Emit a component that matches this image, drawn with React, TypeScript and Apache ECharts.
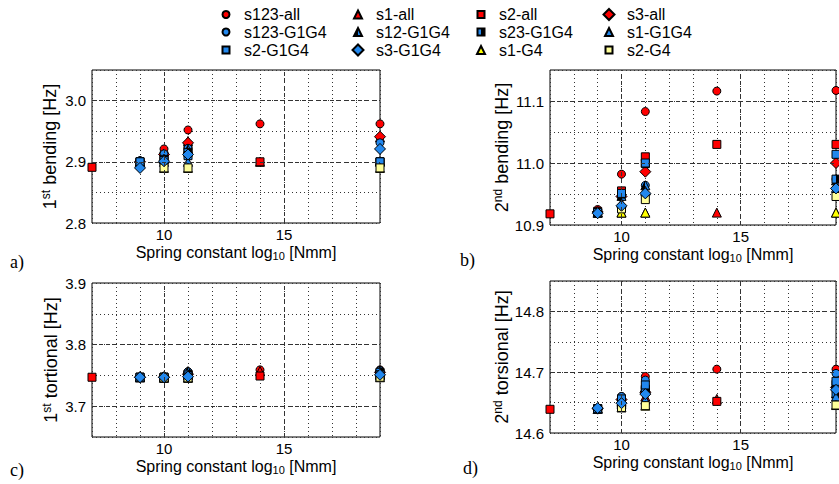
import React, { useEffect, useRef } from 'react';
import * as echarts from 'echarts';

// ---------- data ----------
const xs = [7, 9, 10, 11, 14, 19];
const seriesNames = [
  's123-all', 's1-all', 's2-all', 's3-all',
  's123-G1G4', 's12-G1G4', 's23-G1G4', 's1-G1G4',
  's2-G1G4', 's3-G1G4', 's1-G4', 's2-G4',
];

// rows follow seriesNames, columns follow xs
const bending1: (number | null)[][] = [
  [null, 2.900, 2.921, 2.952, 2.962, 2.962],
  [null, 2.900, 2.905, 2.934, 2.900, 2.940],
  [2.891, 2.900, 2.910, 2.920, 2.900, 2.900],
  [null, 2.900, 2.912, 2.931, null, 2.941],
  [null, 2.902, 2.913, 2.922, null, 2.931],
  [null, 2.900, 2.905, 2.920, null, 2.901],
  [null, 2.900, 2.904, 2.915, null, 2.900],
  [null, 2.900, 2.900, 2.900, null, 2.900],
  [null, 2.900, 2.902, 2.910, null, 2.900],
  [null, 2.890, 2.901, 2.912, null, 2.921],
  [null, null, 2.890, 2.890, null, 2.890],
  [null, null, 2.890, 2.890, null, 2.890],
];

const bending2: (number | null)[][] = [
  [null, 10.925, 10.982, 11.083, 11.116, 11.117],
  [null, 10.920, 10.920, 10.920, 10.920, 10.920],
  [10.918, 10.922, 10.955, 11.010, 11.030, 11.030],
  [null, 10.921, 10.946, 10.986, null, 11.000],
  [null, 10.921, 10.950, 10.964, null, 10.974],
  [null, 10.920, 10.947, 10.964, null, 10.972],
  [null, 10.920, 10.950, 10.999, null, 10.974],
  [null, 10.920, 10.935, 10.955, null, 10.960],
  [null, 10.920, 10.951, 11.000, null, 11.014],
  [null, 10.919, 10.931, 10.951, null, 10.959],
  [null, null, 10.920, 10.920, null, 10.920],
  [null, null, 10.926, 10.941, null, 10.946],
];

const torsion1: (number | null)[][] = [
  [null, 3.747, 3.748, 3.756, 3.759, 3.759],
  [null, 3.747, 3.747, 3.750, 3.757, 3.752],
  [3.747, 3.747, 3.747, 3.750, 3.749, 3.750],
  [null, 3.747, 3.747, 3.752, null, 3.755],
  [null, 3.747, 3.748, 3.756, null, 3.758],
  [null, 3.747, 3.747, 3.757, null, 3.758],
  [null, 3.747, 3.747, 3.752, null, 3.755],
  [null, 3.747, 3.747, 3.747, null, 3.750],
  [null, 3.747, 3.747, 3.749, null, 3.751],
  [null, 3.747, 3.747, 3.748, null, 3.751],
  [null, null, 3.746, 3.746, null, 3.747],
  [null, null, 3.746, 3.746, null, 3.747],
];

const torsion2: (number | null)[][] = [
  [null, 14.640, 14.660, 14.693, 14.705, 14.705],
  [null, 14.640, 14.650, 14.660, 14.656, 14.665],
  [14.639, 14.640, 14.656, 14.672, 14.652, 14.680],
  [null, 14.640, 14.655, 14.667, null, 14.675],
  [null, 14.640, 14.660, 14.687, null, 14.698],
  [null, 14.640, 14.652, 14.676, null, 14.682],
  [null, 14.640, 14.655, 14.670, null, 14.665],
  [null, 14.640, 14.648, 14.655, null, 14.660],
  [null, 14.640, 14.656, 14.679, null, 14.685],
  [null, 14.641, 14.649, 14.664, null, 14.671],
  [null, null, 14.642, 14.645, null, 14.646],
  [null, null, 14.642, 14.645, null, 14.646],
];

const yRanges = [
  [2.8, 3.05],
  [10.9, 11.15],
  [3.65, 3.9],
  [14.6, 14.85],
];
const yMajor = [
  [2.9, 3.0],
  [11.0, 11.1],
  [3.7, 3.8],
  [14.7, 14.8],
];
const xMajor = [10, 15];
const yTitles = [
  ['1', 'st', ' bending [Hz]'],
  ['2', 'nd', ' bending [Hz]'],
  ['1', 'st', ' tortional [Hz]'],
  ['2', 'nd', ' torsional [Hz]'],
];
const panelLetters = ['a)', 'b)', 'c)', 'd)'];

// ---------- styles ----------
const FONT = '"Liberation Sans", Arial, Helvetica, sans-serif';
const SERIF = '"Liberation Serif", "Times New Roman", serif';
const RED = '#ff0000';
const BLUE = '#2288ee';
const YEL = '#ffff00';
const LYEL = '#ffff99';

const split = (a: string, b: string, at: number) =>
  new echarts.graphic.LinearGradient(0, 0, 1, 0, [
    { offset: 0, color: a },
    { offset: at, color: a },
    { offset: at, color: b },
    { offset: 1, color: b },
  ]);

const markerStyle: Record<string, { symbol: string; size: number; legendSize: number; color: any }> = {
  's123-all': { symbol: 'circle', size: 8, legendSize: 7, color: RED },
  's1-all': { symbol: 'triangle', size: 9, legendSize: 8, color: RED },
  's2-all': { symbol: 'rect', size: 8, legendSize: 7, color: RED },
  's3-all': { symbol: 'diamond', size: 11, legendSize: 11, color: RED },
  's123-G1G4': { symbol: 'circle', size: 8, legendSize: 7, color: BLUE },
  's12-G1G4': { symbol: 'triangle', size: 9, legendSize: 8, color: split('#000000', BLUE, 0.5) },
  's23-G1G4': { symbol: 'rect', size: 8, legendSize: 7, color: split(BLUE, '#000000', 0.5) },
  's1-G1G4': { symbol: 'triangle', size: 9, legendSize: 8, color: BLUE },
  's2-G1G4': { symbol: 'rect', size: 8, legendSize: 7, color: BLUE },
  's3-G1G4': { symbol: 'diamond', size: 11, legendSize: 11, color: BLUE },
  's1-G4': { symbol: 'triangle', size: 9, legendSize: 8, color: YEL },
  's2-G4': { symbol: 'rect', size: 8, legendSize: 7, color: LYEL },
};

const grids = [
  { left: 92, top: 70, width: 288, height: 153 },
  { left: 550, top: 70, width: 288, height: 155 },
  { left: 92, top: 283, width: 288, height: 154 },
  { left: 550, top: 281, width: 288, height: 152 },
];
const yNameGaps = [32, 38, 31, 36];
const letterPos = [
  [10, 262],
  [460, 260],
  [10, 470],
  [463, 468],
];
const legendColX = [225, 357, 480, 608];
const legendRowY = [15.5, 33, 51];

function buildOption() {
  const panels = [bending1, bending2, torsion1, torsion2];
  const dotted = { color: '#333', width: 1, type: [1, 3] as number[] };

  const xAxis = grids.map((_, gi) => ({
    type: 'value',
    gridIndex: gi,
    min: 7,
    max: 19,
    interval: 1,
    axisLine: { show: false },
    axisTick: { show: false },
    splitLine: { show: true, lineStyle: dotted },
    axisLabel: {
      margin: 4,
      fontSize: 15,
      fontFamily: FONT,
      color: '#000',
      formatter: (v: number) => (xMajor.includes(v) ? String(v) : ''),
    },
    name: '{a|Spring constant log}{s|10}{a| [Nmm]}',
    nameLocation: 'middle',
    nameGap: 20,
    nameTextStyle: {
      fontSize: 16,
      fontFamily: FONT,
      color: '#000',
      rich: {
        a: { fontSize: 16, fontFamily: FONT, color: '#000' },
        s: { fontSize: 11, fontFamily: FONT, color: '#000', padding: [7, 0, 0, 0] },
      },
    },
  }));

  const yAxis = grids.map((_, gi) => ({
    type: 'value',
    gridIndex: gi,
    min: yRanges[gi][0],
    max: yRanges[gi][1],
    interval: 0.05,
    axisLine: { show: false },
    axisTick: { show: false },
    splitLine: { show: true, lineStyle: dotted },
    axisLabel: {
      margin: 6,
      fontSize: 15,
      fontFamily: FONT,
      color: '#000',
      formatter: (v: number) =>
        Math.abs(v * 10 - Math.round(v * 10)) < 1e-6 ? v.toFixed(1) : '',
    },
    name: `{n|${yTitles[gi][0]}}{p|${yTitles[gi][1]}}{n|${yTitles[gi][2]}}`,
    nameLocation: 'middle',
    nameGap: yNameGaps[gi],
    nameTextStyle: {
      fontSize: 18,
      fontFamily: FONT,
      color: '#000',
      rich: {
        n: { fontSize: 18, fontFamily: FONT, color: '#000' },
        p: { fontSize: 12, fontFamily: FONT, color: '#000', padding: [0, 0, 8, 0] },
      },
    },
  }));

  const series: any[] = [];
  panels.forEach((vals, gi) => {
    series.push({
      type: 'scatter',
      xAxisIndex: gi,
      yAxisIndex: gi,
      data: [],
      silent: true,
      z: 1,
      markLine: {
        silent: true,
        symbol: ['none', 'none'],
        label: { show: false },
        lineStyle: { color: '#333', width: 1, type: [4, 3] },
        data: [
          ...yMajor[gi].map((v) => ({ yAxis: v })),
          ...xMajor.map((v) => ({ xAxis: v })),
        ],
      },
    });
    seriesNames.forEach((name, si) => {
      const st = markerStyle[name];
      const data: number[][] = [];
      xs.forEach((x, k) => {
        const v = vals[si][k];
        if (v !== null) data.push([x, v]);
      });
      series.push({
        type: 'scatter',
        name,
        xAxisIndex: gi,
        yAxisIndex: gi,
        data,
        symbol: st.symbol,
        symbolSize: st.size,
        itemStyle: { color: st.color, borderColor: '#000', borderWidth: 1, opacity: 1 },
        z: name === 's3-G1G4' ? 4 : 3,
        silent: true,
      });
    });
  });

  const legend = seriesNames.map((name, i) => {
    const st = markerStyle[name];
    const s = st.legendSize;
    return {
      data: [name],
      left: legendColX[i % 4] - s / 2,
      top: legendRowY[Math.floor(i / 4)] - 9,
      padding: 0,
      itemWidth: s,
      itemHeight: s,
      itemGap: 0,
      selectedMode: false,
      textStyle: { fontSize: 16, fontFamily: FONT, color: '#000', padding: [0, 0, 0, 13 - s / 2] },
    };
  });

  const graphic = panelLetters.map((t, i) => ({
    type: 'text',
    x: letterPos[i][0],
    y: letterPos[i][1],
    style: {
      text: t,
      fontSize: 18,
      fontFamily: SERIF,
      fill: '#000',
      verticalAlign: 'middle',
    },
  }));

  return {
    animation: false,
    backgroundColor: '#ffffff',
    grid: grids.map((g) => ({ ...g, show: true, borderColor: '#000', borderWidth: 1, backgroundColor: 'transparent' })),
    xAxis,
    yAxis,
    legend,
    series,
    graphic,
  };
}

export default function App() {
  const ref = useRef<HTMLDivElement>(null);
  useEffect(() => {
    document.body.style.margin = '0';
    const chart = echarts.init(ref.current as HTMLDivElement, null, { renderer: 'svg', width: 839, height: 484 });
    chart.setOption(buildOption() as any);
    return () => chart.dispose();
  }, []);
  return (
    <div
      ref={ref}
      style={{ position: 'fixed', left: 0, top: 0, width: 839, height: 484, background: '#fff' }}
    />
  );
}
